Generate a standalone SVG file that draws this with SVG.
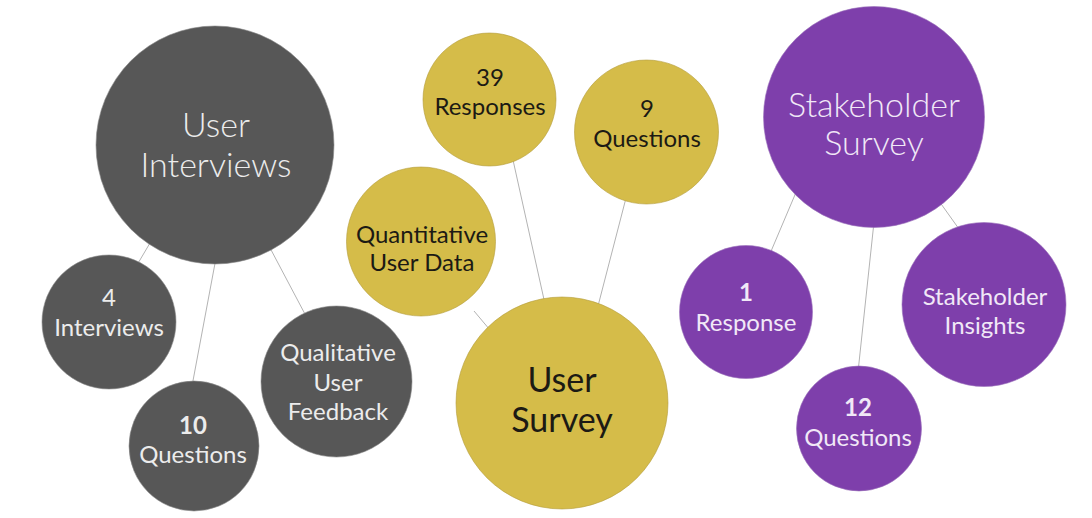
<svg xmlns="http://www.w3.org/2000/svg" width="1092" height="518" viewBox="0 0 1092 518">
<style>
.gray{fill:#575757;stroke:#8a8a8a;stroke-width:0.6}
.gold{fill:#d5bc49;stroke:#b39c3a;stroke-width:0.6}
.purple{fill:#7e3fab;stroke:#9a70bb;stroke-width:0.6}
text{font-family:Lato,"Open Sans","Liberation Sans",sans-serif;text-anchor:middle}
.big{font-size:34px;font-weight:300}
.sm{font-size:24px}
.lt{fill:#ececec}
.lp{fill:#f1e8f7}
.dk{fill:#1c1a14}
.b{font-weight:700}
.conn line{stroke:#b3b3b3;stroke-width:1}
</style>
<rect width="1092" height="518" fill="#ffffff"/>
<g id="connectors" class="conn">
<line x1="150" y1="243" x2="137" y2="265"/>
<line x1="216" y1="258" x2="192" y2="386"/>
<line x1="269" y1="246" x2="306" y2="316"/>
<line x1="513" y1="160" x2="545" y2="304"/>
<line x1="626" y1="198" x2="598" y2="306"/>
<line x1="474" y1="311" x2="490" y2="330"/>
<line x1="797" y1="190" x2="769" y2="256"/>
<line x1="874" y1="222" x2="858" y2="372"/>
<line x1="939" y1="201" x2="959" y2="229"/>
</g>
<g id="user-interviews">
<circle class="gray" cx="215" cy="145" r="119"/>
<text class="big lt" x="216" y="137">User</text>
<text class="big lt" x="216" y="177">Interviews</text>
</g>
<g id="four-interviews">
<circle class="gray" cx="109" cy="322" r="67"/>
<text class="sm lt" x="109" y="306">4</text>
<text class="sm lt" x="109" y="336">Interviews</text>
</g>
<g id="ten-questions">
<circle class="gray" cx="194" cy="446" r="65"/>
<text class="sm lt b" x="193" y="434">10</text>
<text class="sm lt" x="193" y="463">Questions</text>
</g>
<g id="qualitative-feedback">
<circle class="gray" cx="336.5" cy="381.5" r="75.5"/>
<text class="sm lt" x="338" y="361">Qualitative</text>
<text class="sm lt" x="338" y="391">User</text>
<text class="sm lt" x="338" y="420">Feedback</text>
</g>
<g id="thirty-nine-responses">
<circle class="gold" cx="489.5" cy="99.5" r="66.5"/>
<text class="sm dk" x="490" y="86">39</text>
<text class="sm dk" x="490" y="115">Responses</text>
</g>
<g id="nine-questions">
<circle class="gold" cx="646.5" cy="132" r="72"/>
<text class="sm dk" x="647" y="117">9</text>
<text class="sm dk" x="647" y="147">Questions</text>
</g>
<g id="quantitative-data">
<circle class="gold" cx="421" cy="241.5" r="74.5"/>
<text class="sm dk" x="422" y="243">Quantitative</text>
<text class="sm dk" x="422" y="271">User Data</text>
</g>
<g id="user-survey">
<circle class="gold" cx="562" cy="403" r="106"/>
<text class="big dk" style="font-weight:400" x="562" y="392">User</text>
<text class="big dk" style="font-weight:400" x="562" y="432">Survey</text>
</g>
<g id="stakeholder-survey">
<circle class="purple" cx="874" cy="117" r="110.5"/>
<text class="big lp" x="874" y="117">Stakeholder</text>
<text class="big lp" x="874" y="155">Survey</text>
</g>
<g id="one-response">
<circle class="purple" cx="746" cy="312" r="66.5"/>
<text class="sm lp b" x="746" y="301">1</text>
<text class="sm lp" x="746" y="331">Response</text>
</g>
<g id="stakeholder-insights">
<circle class="purple" cx="984" cy="304.5" r="82"/>
<text class="sm lp" x="985" y="305">Stakeholder</text>
<text class="sm lp" x="985" y="334">Insights</text>
</g>
<g id="twelve-questions">
<circle class="purple" cx="859" cy="428.5" r="62.5"/>
<text class="sm lp b" x="858" y="416">12</text>
<text class="sm lp" x="858" y="446">Questions</text>
</g>
</svg>
